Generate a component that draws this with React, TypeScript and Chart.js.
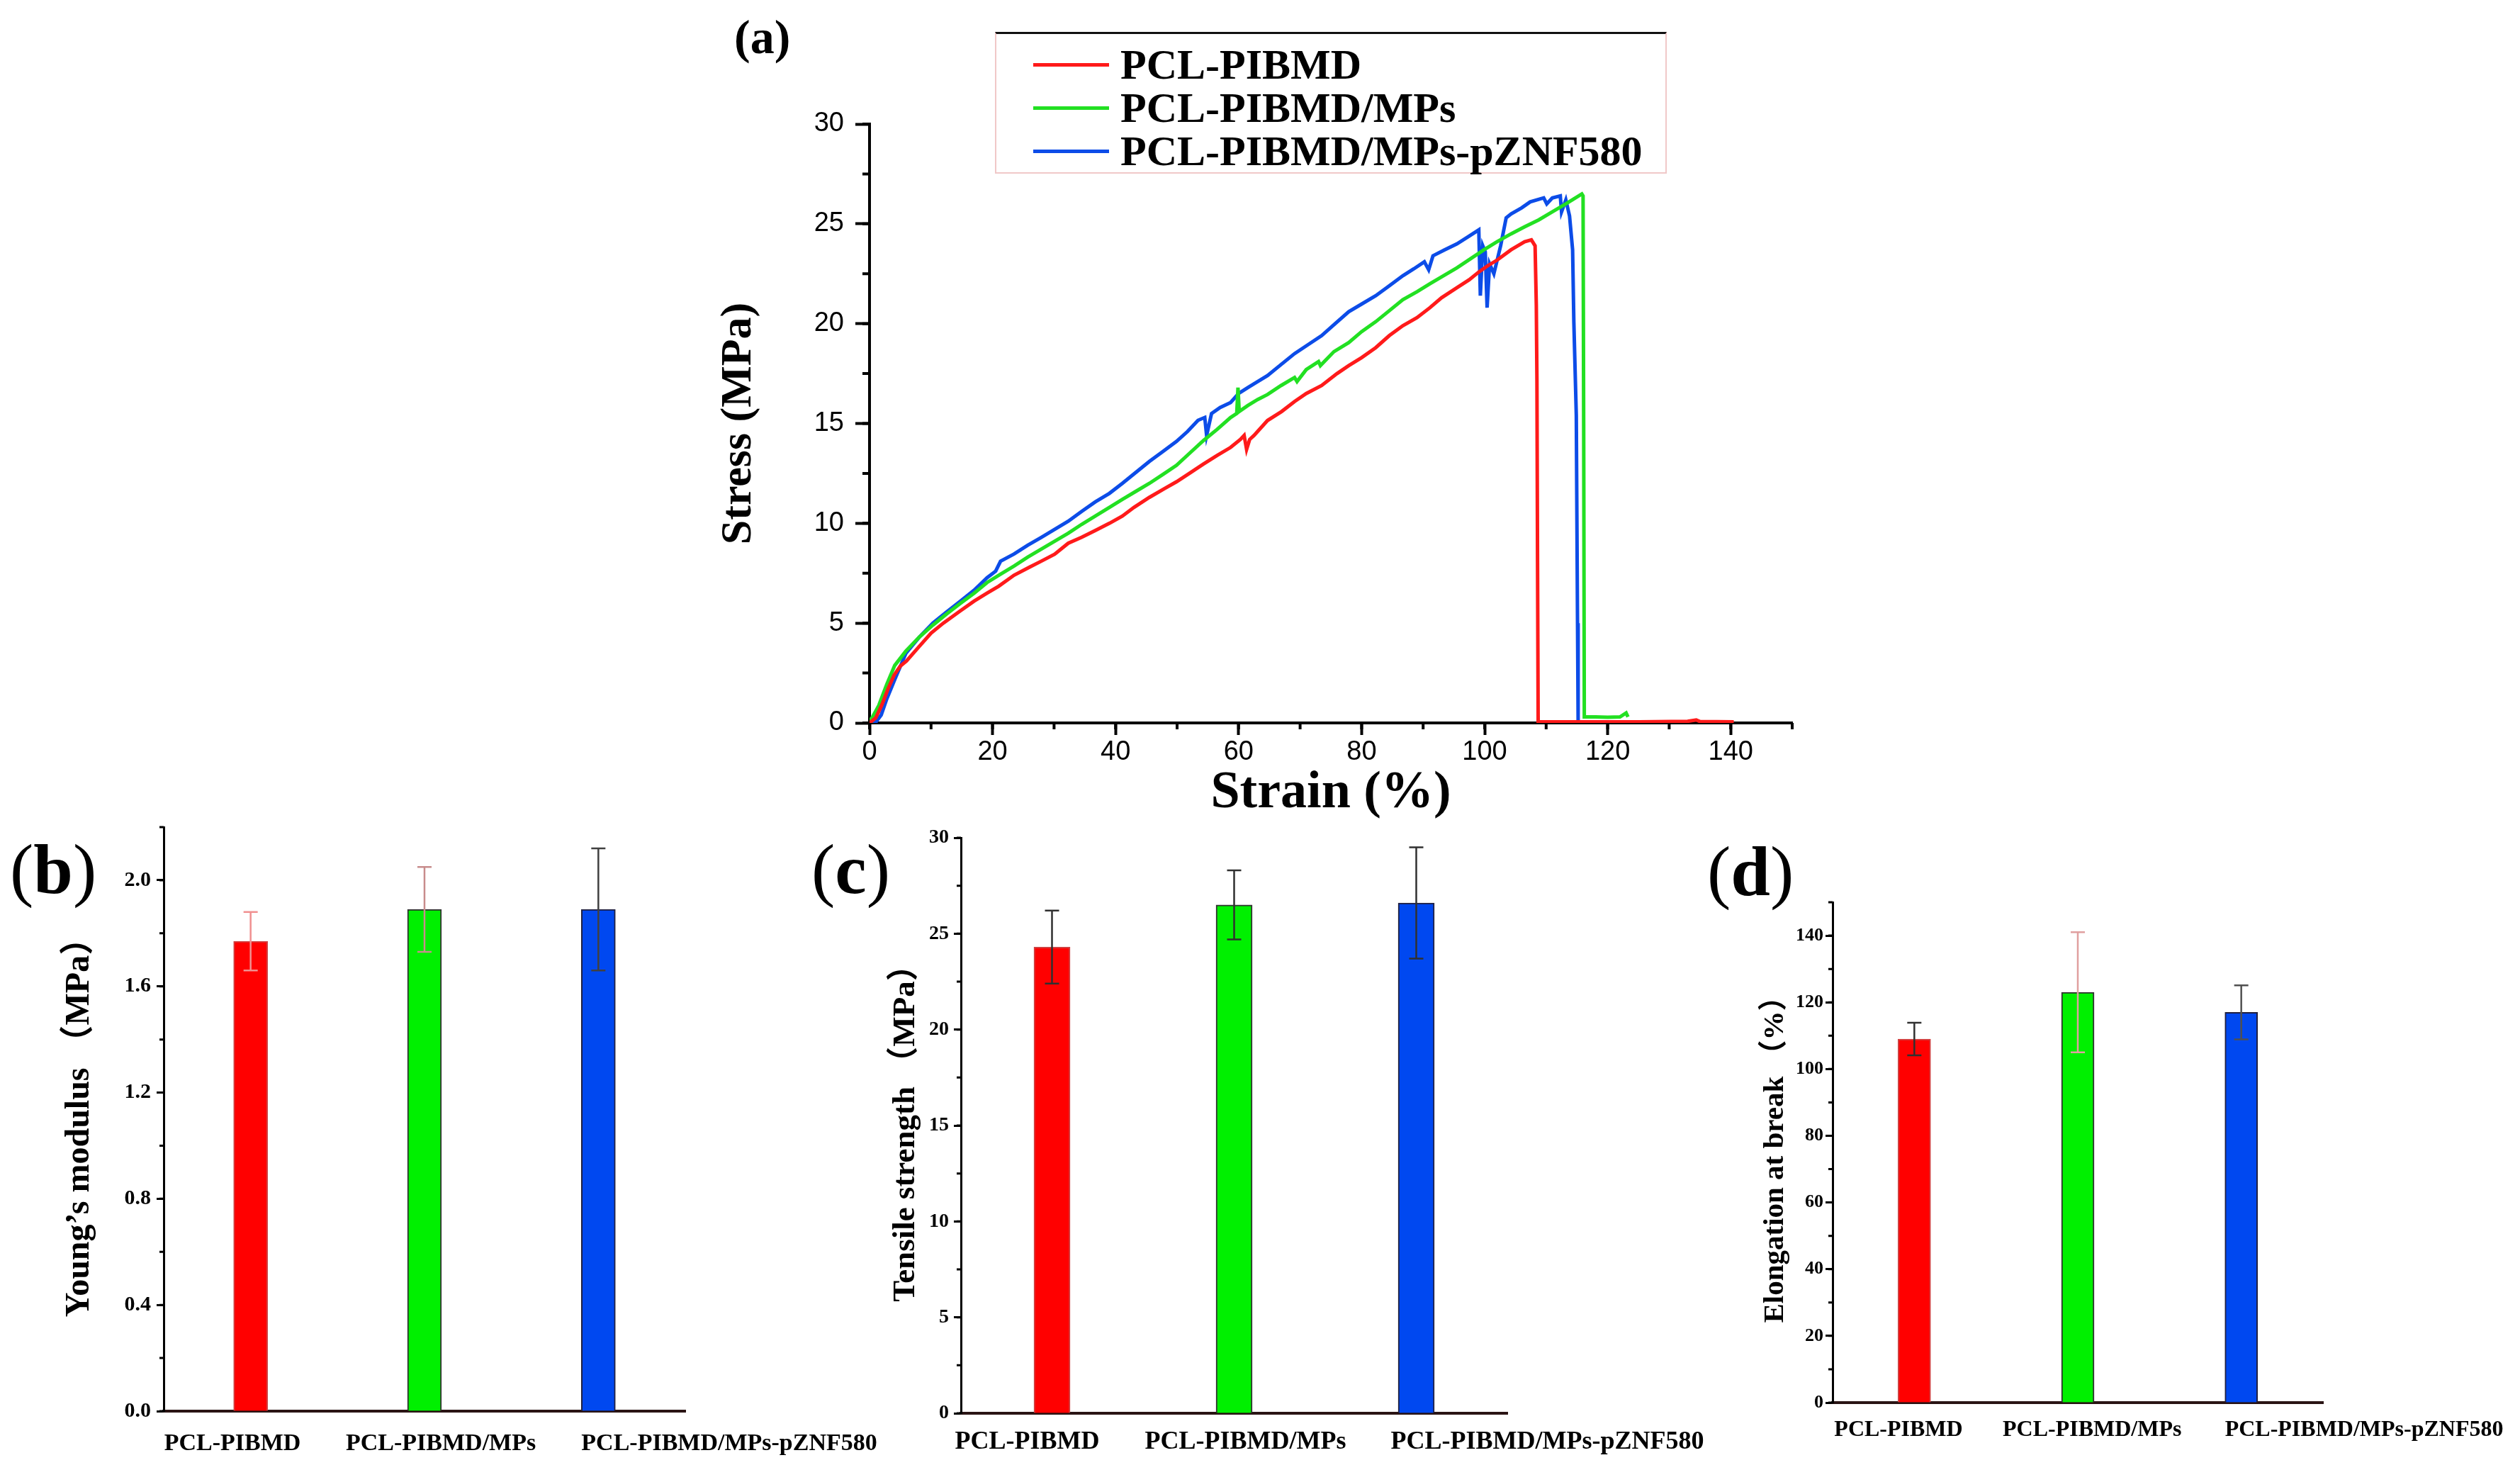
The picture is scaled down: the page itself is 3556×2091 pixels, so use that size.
import React, { useEffect, useRef } from 'react';
import { Chart, registerables } from 'chart.js';

Chart.register(...registerables);

// ---------- data ----------
const categories = ['PCL-PIBMD', 'PCL-PIBMD/MPs', 'PCL-PIBMD/MPs-pZNF580'];

// stress-strain curves: [strain %, stress MPa]
const curvePIBMD: [number, number][] = [
  [0, 0], [1, 0.25], [2, 0.9], [3, 1.7], [4, 2.4], [5, 2.85], [6, 3.1], [8, 3.8], [10, 4.5], [12, 5.0],
  [14.7, 5.6], [17, 6.1], [19.1, 6.5], [21, 6.85], [23.5, 7.4], [26, 7.8], [27.9, 8.1], [30.1, 8.45],
  [32.3, 9.0], [34.5, 9.3], [36.7, 9.64], [39, 10.0], [41.1, 10.36], [43, 10.8], [45.5, 11.3], [48, 11.75],
  [49.9, 12.08], [52, 12.5], [54.3, 12.97], [56.5, 13.4], [58.7, 13.8], [60.3, 14.2], [60.9, 14.4],
  [61.3, 13.7], [61.8, 14.2], [62.5, 14.4], [64.7, 15.15], [67, 15.6], [69.1, 16.1], [71, 16.5],
  [73.5, 16.9], [76, 17.5], [77.9, 17.9], [80, 18.3], [82.3, 18.8], [84.5, 19.4], [86.7, 19.9],
  [89, 20.3], [91.1, 20.8], [93, 21.3], [95.5, 21.8], [97.5, 22.2], [99.1, 22.6], [100.5, 22.9],
  [102.1, 23.2], [104.3, 23.7], [106.5, 24.1], [107.6, 24.2], [108.2, 23.9], [108.4, 20.9], [108.5, 17.2],
  [108.6, 8], [108.7, 0.05], [115, 0.05], [125, 0.05], [133, 0.08], [134.4, 0.15], [135, 0.07], [140.5, 0.05],
];
const curveMPs: [number, number][] = [
  [0, 0.1], [0.5, 0.3], [1.5, 0.87], [2.8, 1.93], [4.1, 2.88], [5.9, 3.6], [8.1, 4.3], [10.3, 4.9],
  [12.5, 5.45], [14.7, 5.97], [17, 6.5], [19.1, 7.03], [21.3, 7.45], [23.5, 7.86], [25.7, 8.3], [27.9, 8.7],
  [30.1, 9.1], [32.3, 9.5], [34.5, 9.95], [36.7, 10.36], [39, 10.8], [41.1, 11.2], [43.3, 11.6], [45.5, 12.0],
  [47.7, 12.45], [49.9, 12.9], [52, 13.5], [54.3, 14.15], [56.5, 14.7], [58.7, 15.3], [59.7, 15.5],
  [59.9, 16.8], [60.1, 15.6], [61.5, 15.9], [63.1, 16.2], [64.7, 16.45], [66.9, 16.9], [69.1, 17.3],
  [69.5, 17.1], [71, 17.7], [73.0, 18.1], [73.3, 17.9], [75.5, 18.6], [77.9, 19.05], [80, 19.6],
  [82.3, 20.1], [84.5, 20.65], [86.7, 21.2], [89, 21.6], [91.1, 22.0], [93.3, 22.4], [95.5, 22.8],
  [97.7, 23.25], [99.9, 23.7], [102, 24.1], [104.3, 24.5], [106.5, 24.85], [108.8, 25.2], [111, 25.6],
  [113.2, 26.0], [114.5, 26.25], [115.8, 26.5], [116.0, 26.4], [116.1, 15], [116.2, 0.3], [118, 0.3],
  [120, 0.28], [122, 0.3], [123, 0.5], [123.3, 0.3],
];
const curvePZNF: [number, number][] = [
  [0, 0], [1.0, 0.03], [1.9, 0.4], [2.8, 1.2], [4.1, 2.17], [5.9, 3.48], [8.1, 4.3], [10.3, 5.0],
  [12.5, 5.55], [14.7, 6.08], [17, 6.65], [19.1, 7.27], [20.5, 7.6], [21.3, 8.1], [23.5, 8.46], [25.7, 8.9],
  [27.9, 9.29], [30.1, 9.7], [32.3, 10.1], [34.5, 10.6], [36.7, 11.07], [39, 11.5], [41.1, 12.0],
  [43.3, 12.55], [45.5, 13.1], [47.7, 13.6], [49.9, 14.1], [51.7, 14.6], [53.4, 15.16], [54.5, 15.3],
  [54.8, 14.4], [55.6, 15.5], [57, 15.8], [58.7, 16.05], [60.0, 16.5], [61.5, 16.8], [63.1, 17.1],
  [64.7, 17.4], [66.9, 17.95], [69.1, 18.5], [71.3, 18.95], [73.5, 19.4], [75.7, 20.0], [77.9, 20.6],
  [80.1, 21.0], [82.3, 21.4], [84.5, 21.9], [86.7, 22.4], [88.5, 22.75], [90.2, 23.1], [90.9, 22.7],
  [91.6, 23.4], [93.5, 23.7], [95.5, 24.0], [97.3, 24.35], [99.05, 24.7], [99.3, 21.4], [99.7, 23.9],
  [100.1, 23.6], [100.4, 20.8], [100.8, 23.0], [101.5, 22.5], [102.6, 23.9], [103.5, 25.3], [104.3, 25.5],
  [106, 25.8], [107.4, 26.1], [109.6, 26.3], [110.1, 26.0], [111, 26.3], [112.3, 26.4], [112.5, 25.6],
  [113.2, 26.2], [113.8, 25.4], [114.3, 23.7], [114.5, 20.1], [114.9, 15.4], [115.1, 5], [115.2, 0], [116, 0.02],
];
const curves = [curvePIBMD, curveMPs, curvePZNF];

// bar panels
const modulusMean = [1.77, 1.89, 1.89];
const modulusErr = [0.11, 0.16, 0.23];
const tensileMean = [24.3, 26.5, 26.6];
const tensileErr = [1.9, 1.8, 2.9];
const elongationMean = [109, 123, 117];
const elongationErr = [4.9, 18, 8.1];

// ---------- styles ----------
const SERIF = '"Liberation Serif", "Times New Roman", "Noto Sans CJK SC", serif';
const SANS = '"Liberation Sans", Arial, sans-serif';
const lineColors = ['#ff1a1a', '#22e022', '#0c4ce8'];
const barColors = ['#ff0000', '#00f000', '#0048f0'];
const barBorders = ['#d04040', '#303030', '#202040'];

function fixWidth(w: number) {
  return (s: any) => {
    s.width = w;
    s.paddingTop = 0; s.paddingBottom = 0; s.paddingLeft = 0; s.paddingRight = 0;
  };
}
function fixHeight(h: number) {
  return (s: any) => {
    s.height = h;
    s.paddingTop = 0; s.paddingBottom = 0; s.paddingLeft = 0; s.paddingRight = 0;
  };
}

function minorTicks(axes: { id: string; step: number; length: number; width: number }[]) {
  return {
    id: 'minorTicks',
    afterDraw(chart: any) {
      const ctx = chart.ctx;
      axes.forEach((a) => {
        const s = chart.scales[a.id];
        if (!s) return;
        const n = Math.round((s.max - s.min) / a.step);
        ctx.save();
        ctx.strokeStyle = '#000';
        ctx.lineWidth = a.width;
        ctx.beginPath();
        for (let i = 0; i <= n; i++) {
          const p = s.getPixelForValue(s.min + i * a.step);
          if (s.isHorizontal()) {
            ctx.moveTo(p, s.top);
            ctx.lineTo(p, s.top + a.length);
          } else {
            ctx.moveTo(s.right, p);
            ctx.lineTo(s.right - a.length, p);
          }
        }
        ctx.stroke();
        ctx.restore();
      });
    },
  };
}

function errorBars(errors: number[], colors: string[], cap: number, width: number) {
  return {
    id: 'errorBars',
    afterDatasetsDraw(chart: any) {
      const ctx = chart.ctx;
      const y = chart.scales.y;
      const ds = chart.data.datasets[0];
      const meta = chart.getDatasetMeta(0);
      meta.data.forEach((bar: any, i: number) => {
        const v = ds.data[i] as number;
        const e = errors[i];
        const top = y.getPixelForValue(v + e);
        const bot = y.getPixelForValue(v - e);
        const x = bar.x;
        ctx.save();
        ctx.strokeStyle = colors[i];
        ctx.lineWidth = width;
        ctx.beginPath();
        ctx.moveTo(x, top); ctx.lineTo(x, bot);
        ctx.moveTo(x - cap, top); ctx.lineTo(x + cap, top);
        ctx.moveTo(x - cap, bot); ctx.lineTo(x + cap, bot);
        ctx.stroke();
        ctx.restore();
      });
    },
  };
}

// category labels, left-aligned at each category tick plus a per-label shift
function categoryLabels(shifts: number[], size: number, gap: number) {
  return {
    id: 'categoryLabels',
    afterDraw(chart: any) {
      const s = chart.scales.x;
      const ctx = chart.ctx;
      ctx.save();
      ctx.font = `bold ${size}px ${SERIF}`;
      ctx.fillStyle = '#000';
      ctx.textAlign = 'left';
      ctx.textBaseline = 'middle';
      (chart.data.labels as string[]).forEach((lab, i) => {
        ctx.fillText(lab, s.getPixelForTick(i) + shifts[i], s.top + gap);
      });
      ctx.restore();
    },
  };
}

function lineConfig(): any {
  return {
    type: 'line',
    data: {
      datasets: curves.map((c, i) => ({
        label: categories[i],
        data: c.map(([x, y]) => ({ x, y })),
        borderColor: lineColors[i],
        backgroundColor: lineColors[i],
        borderWidth: 5,
        pointRadius: 0,
        tension: 0,
        fill: false,
      })),
    },
    options: {
      animation: false,
      responsive: false,
      events: [],
      layout: { padding: { left: 0, top: 25, right: 51, bottom: 0 } },
      plugins: { legend: { display: false }, tooltip: { enabled: false } },
      scales: {
        x: {
          type: 'linear', min: 0, max: 150,
          afterFit: fixHeight(160),
          ticks: { stepSize: 20, includeBounds: false, font: { family: SANS, size: 38 }, color: '#000', padding: 2, maxRotation: 0, autoSkip: false },
          grid: { drawOnChartArea: false, tickLength: 17, tickWidth: 4, tickColor: '#000' },
          border: { color: '#000', width: 4 },
          title: { display: true, text: 'Strain (%)', color: '#000', font: { family: SERIF, size: 74, weight: 'bold' }, padding: { top: 0, bottom: 16 } },
        },
        y: {
          type: 'linear', min: 0, max: 30,
          afterFit: fixWidth(247),
          ticks: { stepSize: 5, font: { family: SANS, size: 38 }, color: '#000', padding: 16 },
          grid: { drawOnChartArea: false, tickLength: 20, tickWidth: 4, tickColor: '#000' },
          border: { color: '#000', width: 4 },
          title: { display: true, text: 'Stress (MPa)', color: '#000', font: { family: SERIF, size: 62, weight: 'bold' }, padding: { top: 26, bottom: 0 } },
        },
      },
    },
    plugins: [minorTicks([{ id: 'x', step: 10, length: 9, width: 4 }, { id: 'y', step: 2.5, length: 10, width: 4 }])],
  };
}

interface BarOpts {
  values: number[]; errors: number[]; errColors: string[];
  yMax: number; yStep: number; yMinor: number; decimals: number;
  axisW: number; axisH: number; padTop: number; padRight: number;
  title: string; titleSize: number; titlePad: number;
  tickSize: number; tickPad: number; catSize: number; catGap: number; labelShift: number[]; barThickness: number;
}

function barConfig(o: BarOpts): any {
  return {
    type: 'bar',
    data: {
      labels: categories,
      datasets: [{
        data: o.values,
        backgroundColor: barColors,
        borderColor: barBorders,
        borderWidth: 2,
        barThickness: o.barThickness,
      }],
    },
    options: {
      animation: false,
      responsive: false,
      events: [],
      layout: { padding: { left: 0, top: o.padTop, right: o.padRight, bottom: 0 } },
      plugins: { legend: { display: false }, tooltip: { enabled: false } },
      scales: {
        x: {
          type: 'category',
          afterFit: fixHeight(o.axisH),
          ticks: { display: false },
          grid: { display: false },
          border: { color: '#2a1414', width: 4 },
        },
        y: {
          type: 'linear', min: 0, max: o.yMax,
          afterFit: fixWidth(o.axisW),
          ticks: {
            stepSize: o.yStep, includeBounds: false,
            font: { family: SERIF, size: o.tickSize, weight: 'bold' }, color: '#000', padding: o.tickPad,
            callback: (v: number) => v.toFixed(o.decimals),
          },
          grid: { drawOnChartArea: false, tickLength: 10, tickWidth: 3, tickColor: '#000' },
          border: { color: '#000', width: 3 },
          title: { display: true, text: o.title, color: '#000', font: { family: SERIF, size: o.titleSize, weight: 'bold' }, padding: { top: o.titlePad, bottom: 0 } },
        },
      },
    },
    plugins: [
      minorTicks([{ id: 'y', step: o.yMinor, length: 6, width: 3 }]),
      errorBars(o.errors, o.errColors, 10, 2.5),
      categoryLabels(o.labelShift, o.catSize, o.catGap),
    ],
  };
}

function ChartCanvas(props: { left: number; top: number; width: number; height: number; make: () => any }) {
  const ref = useRef<HTMLCanvasElement | null>(null);
  useEffect(() => {
    if (!ref.current) return;
    const chart = new Chart(ref.current, props.make());
    return () => chart.destroy();
  }, []);
  return (
    <canvas
      ref={ref}
      width={props.width}
      height={props.height}
      style={{ position: 'absolute', left: props.left, top: props.top, width: props.width, height: props.height }}
    />
  );
}

function PanelLabel(props: { left: number; top: number; letter: string }) {
  return (
    <div style={{ position: 'absolute', left: props.left, top: props.top, fontFamily: SERIF, fontSize: 100, lineHeight: '100px', whiteSpace: 'nowrap', color: '#000' }}>
      (<b>{props.letter}</b>)
    </div>
  );
}

export default function App() {
  return (
    <div style={{ position: 'fixed', left: 0, top: 0, width: 3556, height: 2091, background: '#fff', overflow: 'hidden' }}>
      <ChartCanvas left={980} top={150} width={1600} height={1030} make={lineConfig} />
      <ChartCanvas
        left={0} top={1140} width={1300} height={951}
        make={() => barConfig({
          values: modulusMean, errors: modulusErr, errColors: ['#f09090', '#c88c8c', '#404040'],
          yMax: 2.2, yStep: 0.4, yMinor: 0.2, decimals: 1,
          axisW: 231, axisH: 100, padTop: 27, padRight: 333,
          title: 'Young\u2019s modulus （MPa）', titleSize: 48, titlePad: 84,
          tickSize: 30, tickPad: 8, catSize: 34, catGap: 46, labelShift: [-122, -111, -24], barThickness: 48,
        })}
      />
      <ChartCanvas
        left={1190} top={1140} width={1250} height={951}
        make={() => barConfig({
          values: tensileMean, errors: tensileErr, errColors: ['#303030', '#303030', '#303030'],
          yMax: 30, yStep: 5, yMinor: 2.5, decimals: 0,
          axisW: 166, axisH: 97, padTop: 42, padRight: 313,
          title: 'Tensile strength （MPa）', titleSize: 45, titlePad: 61,
          tickSize: 28, tickPad: 7, catSize: 36, catGap: 41, labelShift: [-137, -126, -36], barThickness: 51,
        })}
      />
      <ChartCanvas
        left={2420} top={1140} width={1136} height={951}
        make={() => barConfig({
          values: elongationMean, errors: elongationErr, errColors: ['#303030', '#e0a0a0', '#505050'],
          yMax: 150, yStep: 20, yMinor: 10, decimals: 0,
          axisW: 166, axisH: 112, padTop: 133, padRight: 278,
          title: 'Elongation at break （%）', titleSize: 41, titlePad: 61,
          tickSize: 26, tickPad: 3, catSize: 32, catGap: 39, labelShift: [-113, -106, -23], barThickness: 46,
        })}
      />

      <div style={{ position: 'absolute', left: 1036, top: 18, fontFamily: SERIF, fontWeight: 'bold', fontSize: 68, lineHeight: '68px', color: '#000' }}>(a)</div>

      <div style={{ position: 'absolute', left: 1404, top: 45, width: 948, height: 200, boxSizing: 'border-box', borderTop: '3px solid #111', borderLeft: '2px solid #f0c8c8', borderRight: '2px solid #f0c8c8', borderBottom: '2px solid #f0c8c8' }}>
        {categories.map((name, i) => (
          <div key={name} style={{ position: 'absolute', left: 52, top: 8 + i * 61, height: 70, display: 'flex', alignItems: 'center' }}>
            <div style={{ width: 107, height: 5, background: lineColors[i] }} />
            <span style={{ marginLeft: 16, fontFamily: SERIF, fontWeight: 'bold', fontSize: 60, lineHeight: '70px', whiteSpace: 'nowrap', color: '#000' }}>{name}</span>
          </div>
        ))}
      </div>

      <PanelLabel left={14} top={1177} letter="b" />
      <PanelLabel left={1145} top={1177} letter="c" />
      <PanelLabel left={2409} top={1180} letter="d" />
    </div>
  );
}
